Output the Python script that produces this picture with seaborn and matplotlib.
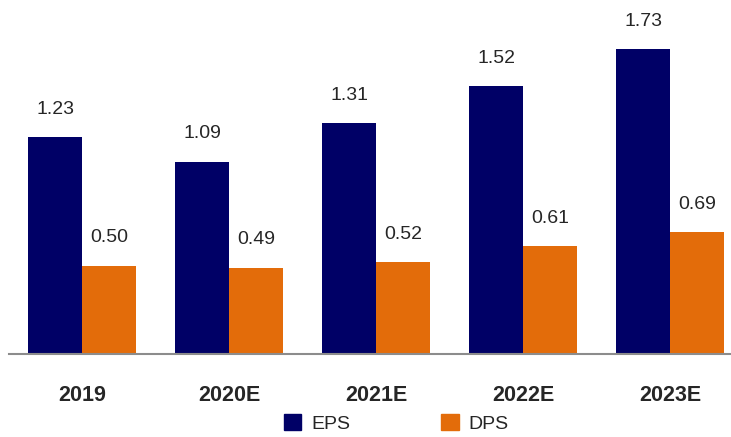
import numpy as np
import pandas as pd
import seaborn as sns
import matplotlib.pyplot as plt

years = ["2019", "2020E", "2021E", "2022E", "2023E"]
eps = [1.23, 1.09, 1.31, 1.52, 1.73]
dps = [0.50, 0.49, 0.52, 0.61, 0.69]

df = pd.DataFrame({
    "Year": years * 2,
    "Value": eps + dps,
    "Series": ["EPS"] * len(years) + ["DPS"] * len(years),
})

sns.set_style("white")
plt.rcParams['font.family'] = ['Liberation Sans', 'DejaVu Sans']

fig = plt.figure(figsize=(7.31, 4.37), dpi=100)
ax = fig.add_axes([8.5 / 731, 83 / 437, 735 / 731, 352.6 / 437])

sns.barplot(
    data=df, x="Year", y="Value", hue="Series",
    palette={"EPS": "#000066", "DPS": "#E36C0A"},
    width=0.73, gap=0, saturation=1, linewidth=0,
    ax=ax, legend=False
)

for cont in ax.containers:
    ax.bar_label(cont, fmt="%.2f", padding=14, fontsize=14)

ax.set_xlim(-0.5, 4.5)
ax.set_ylim(0, 2.0)
ax.set_xlabel("")
ax.set_ylabel("")
ax.set_yticks([])
for s in ["left", "right", "top"]:
    ax.spines[s].set_visible(False)
ax.spines["bottom"].set_color("#8c8c8c")
ax.spines["bottom"].set_linewidth(1.5)
ax.tick_params(axis="x", length=0, pad=22)
for lbl in ax.get_xticklabels():
    lbl.set_fontweight("bold")
    lbl.set_fontsize(15.5)

handles = [plt.Rectangle((0, 0), 1, 1, color="#000066"),
           plt.Rectangle((0, 0), 1, 1, color="#E36C0A")]
fig.legend(handles, ["EPS", "DPS"], loc="lower center",
           bbox_to_anchor=(0.542, -0.03), ncol=2, frameon=False,
           fontsize=14, handlelength=0.9, handleheight=0.9,
           handletextpad=0.5, columnspacing=4.7)

fig.savefig("out.png", dpi=100)
